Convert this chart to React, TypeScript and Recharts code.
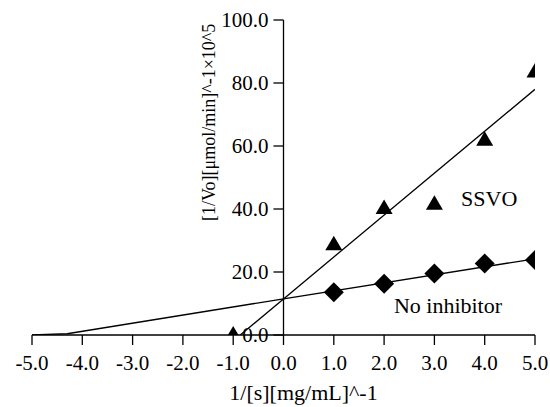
import React from 'react';
import {
  ComposedChart,
  XAxis,
  YAxis,
  Line,
  Scatter,
  ReferenceLine,
  ReferenceDot,
} from 'recharts';

const xTicks = [-5, -4, -3, -2, -1, 0, 1, 2, 3, 4, 5];
const yTicks = [0, 20, 40, 60, 80, 100];

const ssvoX = [-1, 1, 2, 3, 4, 5];
const ssvoY = [0.5, 29.1, 40.6, 42.0, 62.3, 84.0];
const noInhX = [1, 2, 3, 4, 5];
const noInhY = [13.6, 16.3, 19.5, 22.7, 23.8];

const ssvoFitX = [-0.86, 5];
const ssvoFitY = [0, 78.0];
const noInhFitX = [-5, -4.3, 0, 5];
const noInhFitY = [0, 0.4, 11.5, 24.2];

const xTitle = '1/[s][mg/mL]^-1';
const yTitle = '[1/Vo][μmol/min]^-1×10^5';
const ssvoName = 'SSVO';
const noInhName = 'No inhibitor';

const zip = (xs: number[], ys: number[]) => xs.map((x, i) => ({ x, y: ys[i] }));

const ssvoPts = zip(ssvoX, ssvoY);
const noInhPts = zip(noInhX, noInhY);
const ssvoFit = zip(ssvoFitX, ssvoFitY);
const noInhFit = zip(noInhFitX, noInhFitY);

const FONT = "'Liberation Serif', 'Times New Roman', Times, 'DejaVu Serif', serif";

const Triangle = (props: any) => {
  const { cx, cy } = props;
  return (
    <polygon
      points={`${cx},${cy - 7.5} ${cx + 8.5},${cy + 7} ${cx - 8.5},${cy + 7}`}
      fill="#000"
    />
  );
};

const Diamond = (props: any) => {
  const { cx, cy } = props;
  return (
    <polygon
      points={`${cx},${cy - 10} ${cx + 10},${cy} ${cx},${cy + 10} ${cx - 10},${cy}`}
      fill="#000"
    />
  );
};

export default function App() {
  return (
    <div
      style={{
        position: 'absolute',
        left: 0,
        top: 0,
        background: '#fff',
        fontFamily: FONT,
      }}
    >
      <style>{`.recharts-wrapper text, .recharts-wrapper tspan { font-family: ${FONT} !important; }`}</style>
      <ComposedChart
        width={550}
        height={407}
        margin={{ top: 20, right: 15, bottom: 0, left: 32 }}
      >
        <XAxis
          type="number"
          dataKey="x"
          domain={[-5, 5]}
          ticks={xTicks}
          interval={0}
          allowDataOverflow
          tickFormatter={(v: number) => v.toFixed(1)}
          tick={{ fill: '#000', fontSize: 21 }}
          tickLine={{ stroke: '#000', strokeWidth: 1.3 }}
          axisLine={{ stroke: '#000', strokeWidth: 1.3 }}
          tickSize={10}
          tickMargin={10}
          height={72}
          label={{
            value: xTitle,
            position: 'insideBottom',
            offset: 7,
            dx: 20,
            fill: '#000',
            fontSize: 22,
          }}
        />
        <YAxis type="number" dataKey="y" domain={[0, 100]} hide allowDataOverflow />

        <ReferenceLine x={0} stroke="#000" strokeWidth={1.3} />
        {yTicks.map((v) => (
          <ReferenceLine
            key={'t' + v}
            segment={[
              { x: -0.2, y: v },
              { x: 0, y: v },
            ]}
            stroke="#000"
            strokeWidth={1.3}
          />
        ))}
        {yTicks.map((v) => (
          <ReferenceDot
            key={'l' + v}
            x={0}
            y={v}
            r={0}
            fill="none"
            stroke="none"
            label={{
              value: v.toFixed(1),
              position: 'left',
              offset: 15,
              fill: '#000',
              fontSize: 21,
            }}
          />
        ))}
        <ReferenceDot
          x={-1.48}
          y={67.5}
          r={0}
          fill="none"
          stroke="none"
          label={{
            value: yTitle,
            position: 'center',
            angle: -90,
            fill: '#000',
            fontSize: 18,
          }}
        />
        <ReferenceDot
          x={4.09}
          y={43.4}
          r={0}
          fill="none"
          stroke="none"
          label={{
            value: ssvoName,
            position: 'center',
            fill: '#000',
            fontSize: 22,
          }}
        />
        <ReferenceDot
          x={3.27}
          y={9.4}
          r={0}
          fill="none"
          stroke="none"
          label={{
            value: noInhName,
            position: 'center',
            fill: '#000',
            fontSize: 22,
          }}
        />

        <Line
          data={noInhFit}
          dataKey="y"
          stroke="#000"
          strokeWidth={1.3}
          dot={false}
          activeDot={false}
          isAnimationActive={false}
        />
        <Line
          data={ssvoFit}
          dataKey="y"
          stroke="#000"
          strokeWidth={1.3}
          dot={false}
          activeDot={false}
          isAnimationActive={false}
        />
        <Scatter data={noInhPts} dataKey="y" shape={Diamond} isAnimationActive={false} />
        <Scatter data={ssvoPts} dataKey="y" shape={Triangle} isAnimationActive={false} />
      </ComposedChart>
    </div>
  );
}
